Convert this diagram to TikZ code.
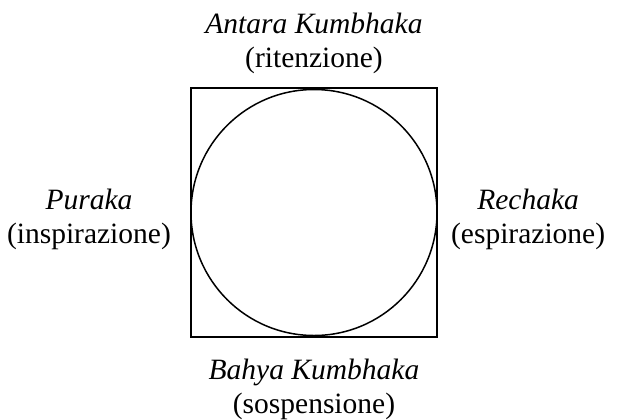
\documentclass[tikz,border=0pt]{standalone}
\usepackage{fontspec}
\setmainfont{Liberation Serif}
\usetikzlibrary{positioning}

\begin{document}
\begin{tikzpicture}[
    x=0.5pt, y=-0.5pt,
    frame/.style={rectangle, draw, line width=0.75pt, minimum width=123pt,
                  minimum height=124.5pt, inner sep=0pt},
    ring/.style={circle, draw, line width=0.75pt, minimum size=123pt,
                 inner sep=0pt},
    phase/.style={align=center, inner sep=0pt,
                  font=\fontsize{14.75}{17}\selectfont}
]
\useasboundingbox (0,0) rectangle (617,419);
\node[frame] (sq) at (314,212.5) {};
\node[ring] (circ) at (sq.center) {};
\node[phase, above=6.5pt of sq] (antara)
    {\textit{Antara Kumbhaka}\\(ritenzione)};
\node[phase, below=10.5pt of sq] (bahya)
    {\textit{Bahya Kumbhaka}\\(sospensione)};
\node[phase, left=9.5pt of sq, yshift=-3.5pt] (puraka)
    {\textit{Puraka}\\(inspirazione)};
\node[phase, right=6.5pt of sq, yshift=-3.5pt] (rechaka)
    {\textit{Rechaka}\\(espirazione)};
\end{tikzpicture}
\end{document}
